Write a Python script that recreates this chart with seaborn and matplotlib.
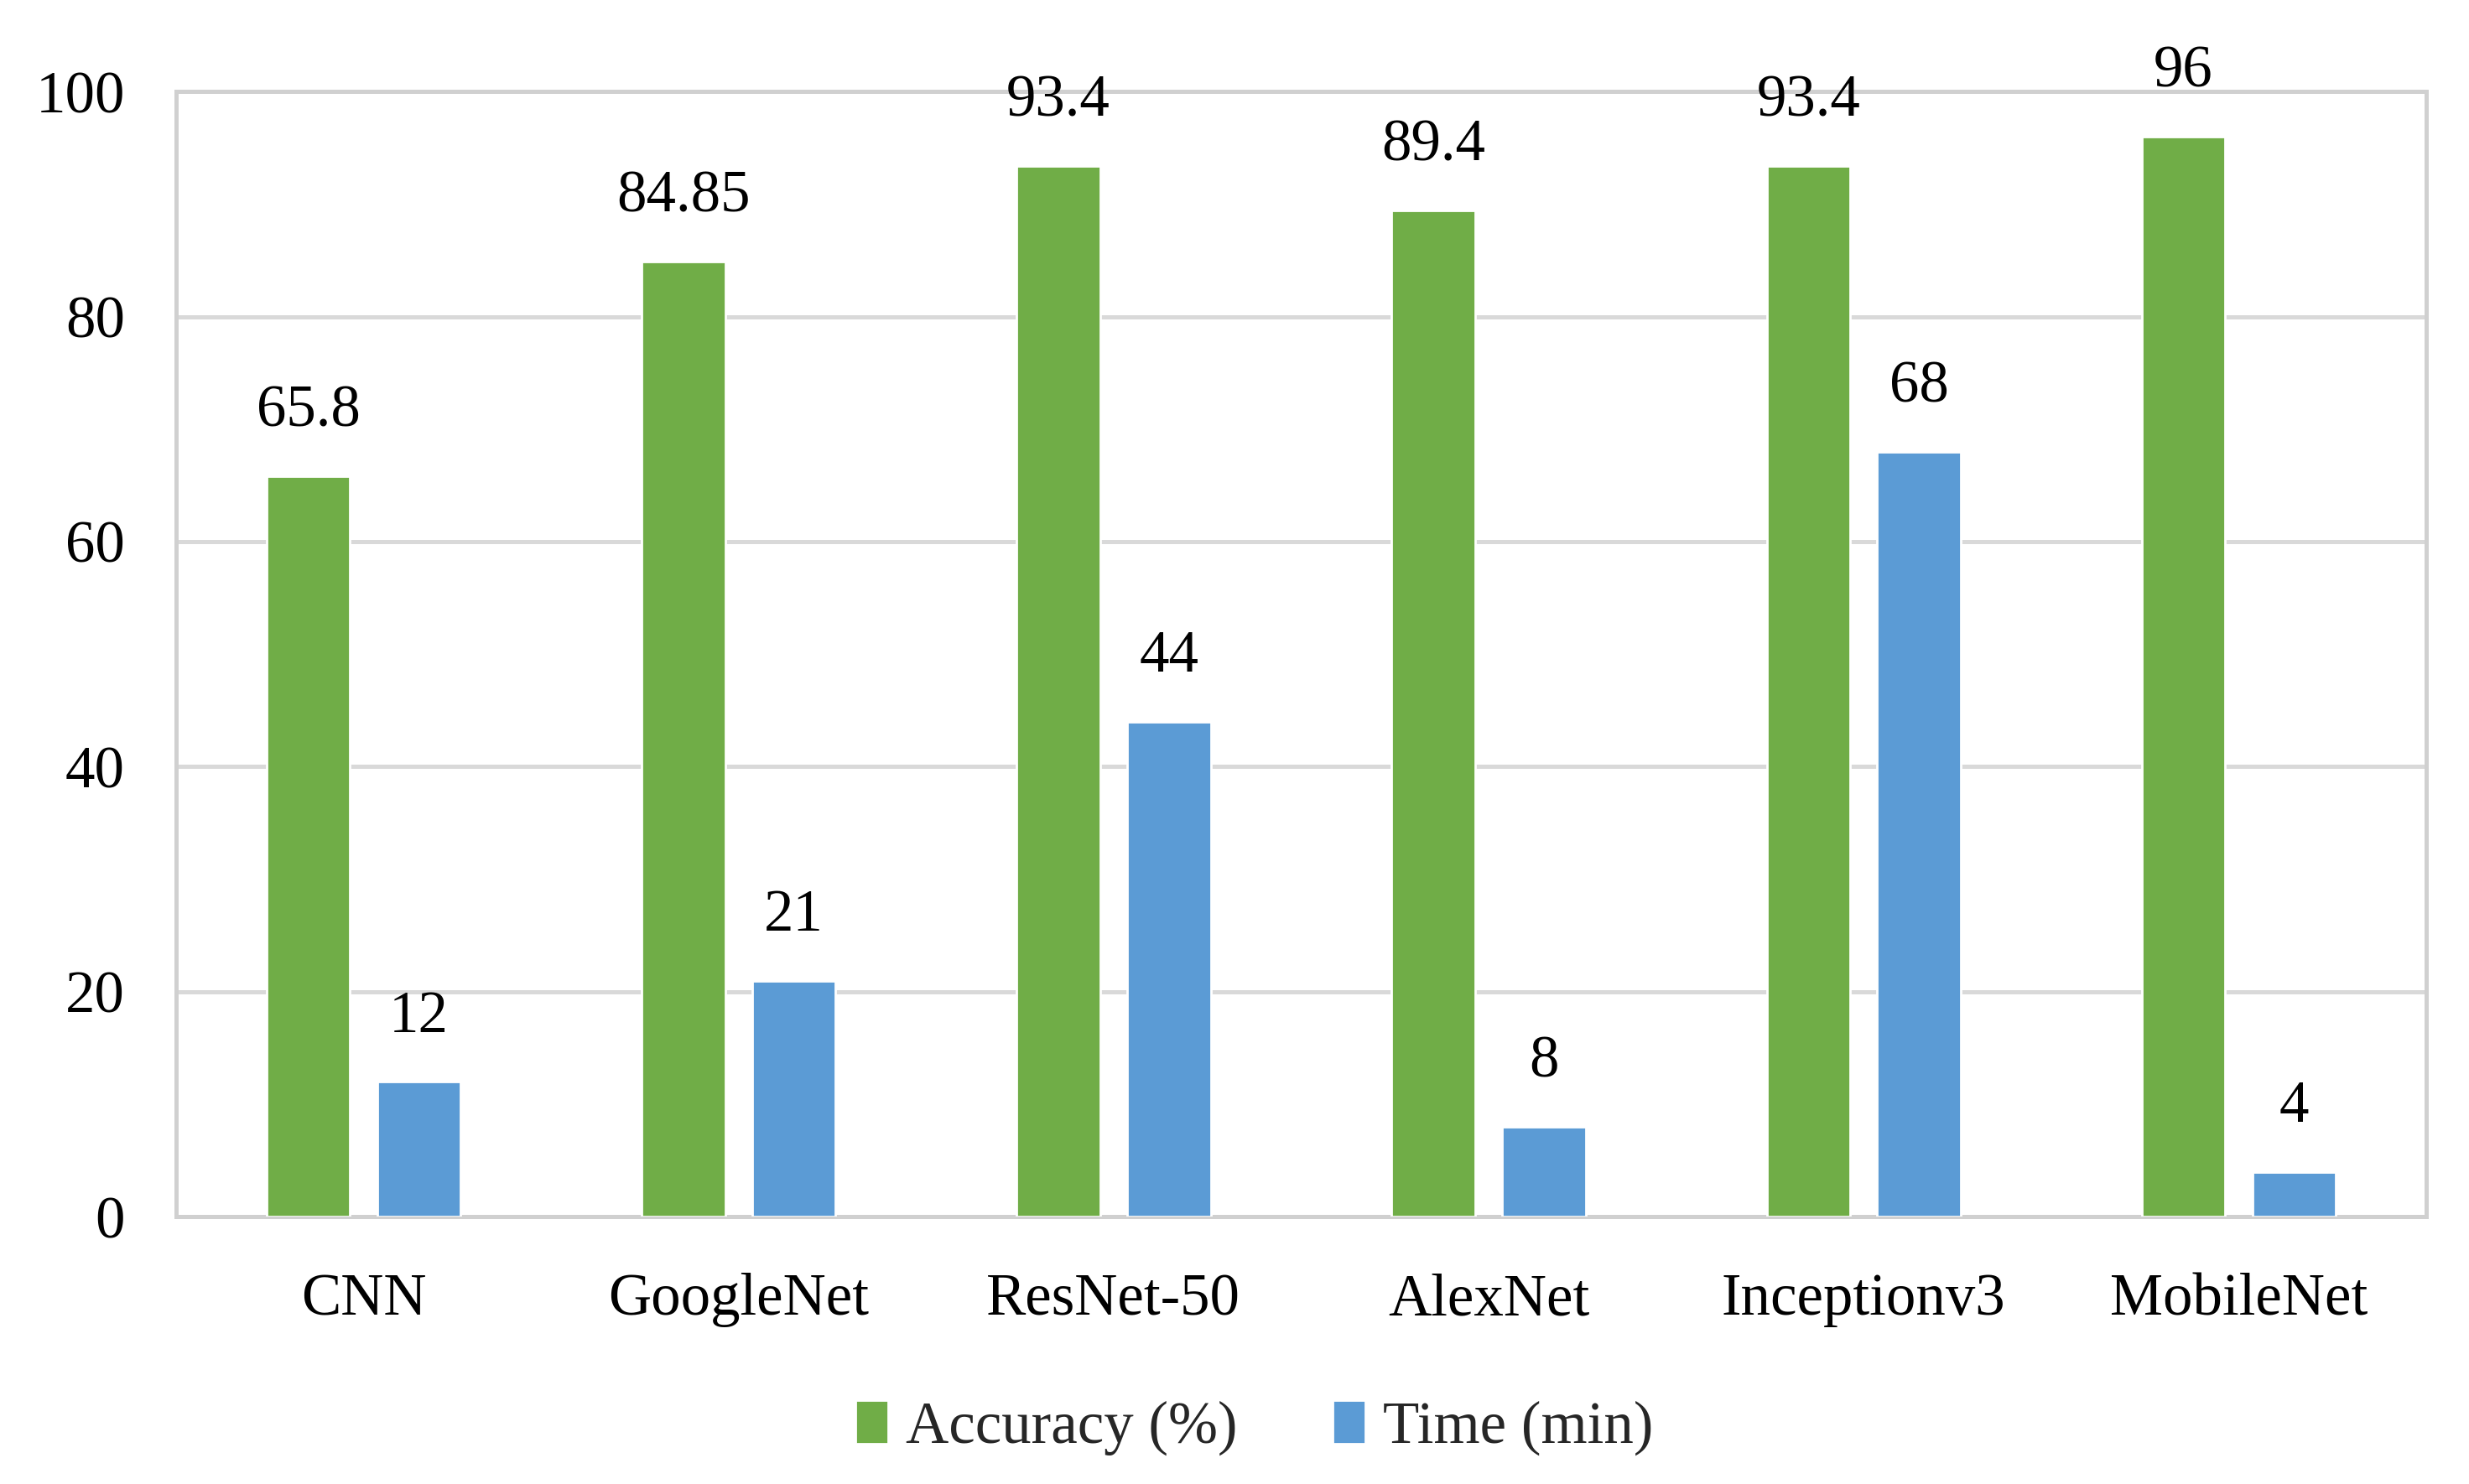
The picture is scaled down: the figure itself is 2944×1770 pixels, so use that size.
import pandas as pd
import matplotlib.pyplot as plt
import seaborn as sns

models = ["CNN", "GoogleNet", "ResNet-50", "AlexNet", "Inceptionv3", "MobileNet"]
accuracy = [65.8, 84.85, 93.4, 89.4, 93.4, 96]
time_min = [12, 21, 44, 8, 68, 4]
series = ["Accuracy (%)", "Time (min)"]
colors = ["#70AD47", "#5B9BD5"]

df = pd.DataFrame({
    "Model": models * 2,
    "Value": accuracy + time_min,
    "Metric": [series[0]] * len(models) + [series[1]] * len(models),
})

sns.set_style("white")
plt.rcParams["font.family"] = ["Liberation Serif", "DejaVu Serif"]

fig, ax = plt.subplots(figsize=(14.72, 8.85), dpi=200)
fig.subplots_adjust(left=0.0713, right=0.9827, top=0.9384, bottom=0.180)

sns.barplot(data=df, x="Model", y="Value", hue="Metric", palette=colors,
            width=0.59, gap=0.245, saturation=1, ax=ax, zorder=3)

for cont in ax.containers:
    ax.bar_label(cont, fmt="%g", padding=16, fontsize=25.5, color="black")

ax.set_ylim(0, 100)
ax.set_yticks(range(0, 101, 20))
ax.set_xlabel("")
ax.set_ylabel("")
ax.tick_params(axis="both", length=0, labelsize=25.5, colors="black")
ax.tick_params(axis="y", pad=22)
ax.tick_params(axis="x", pad=24)
ax.yaxis.grid(True, color="#D9D9D9", linewidth=1.8, zorder=0)
ax.set_axisbelow(True)
for s in ax.spines.values():
    s.set_visible(True)
    s.set_color("#D0D0D0")
    s.set_linewidth(1.8)

handles, labels = ax.get_legend_handles_labels()
ax.legend_.remove()
fig.legend(handles, labels, loc="center", bbox_to_anchor=(0.508, 0.038), ncol=2,
           frameon=False, fontsize=25.5, handlelength=0.55, handleheight=0.75,
           handletextpad=0.3, columnspacing=1.6)

plt.savefig("out.png", dpi=200)
